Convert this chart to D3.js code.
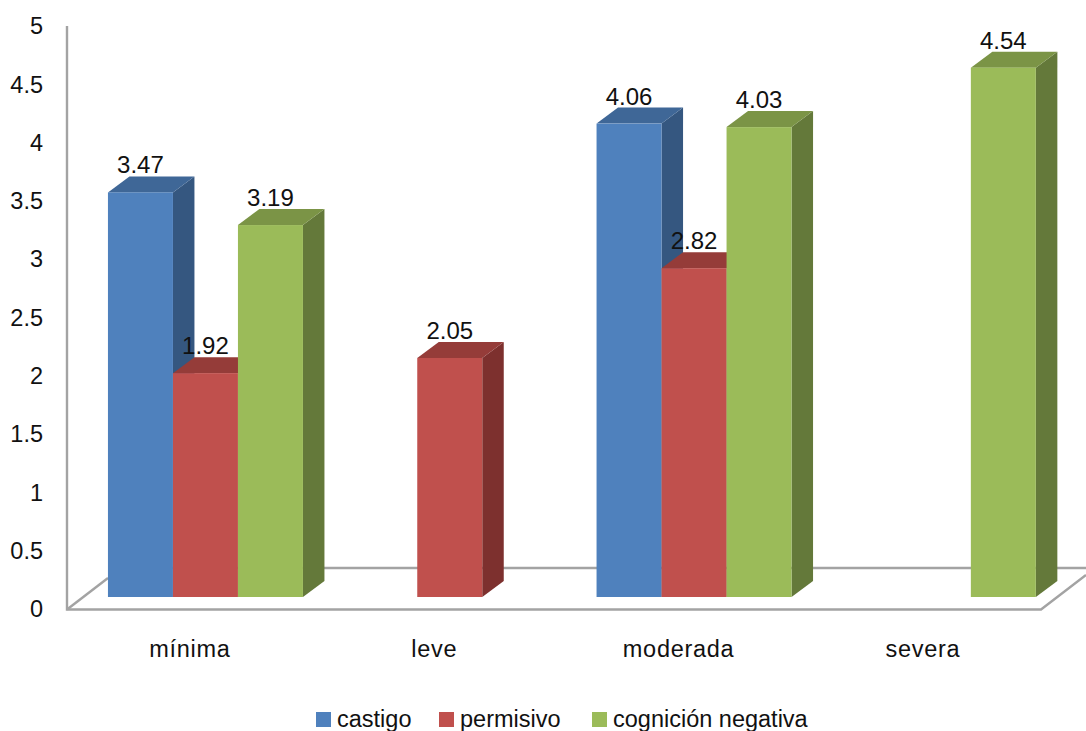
<!DOCTYPE html>
<html>
<head>
<meta charset="utf-8">
<style>
  html, body { margin: 0; padding: 0; background: #fff; }
  text { font-family: "Liberation Sans", Arial, sans-serif; fill: #111; }
</style>
<script src="https://cdn.jsdelivr.net/npm/d3@7/dist/d3.min.js"></script>
</head>
<body>
<svg id="chart" width="1086" height="731"></svg>
<script>
const categories = ["mínima", "leve", "moderada", "severa"];
const seriesNames = ["castigo", "permisivo", "cognición negativa"];
const castigo = [3.47, null, 4.06, null];
const permisivo = [1.92, 2.05, 2.82, null];
const cognicionNegativa = [3.19, null, 4.03, 4.54];
const yTicks = [0, 0.5, 1, 1.5, 2, 2.5, 3, 3.5, 4, 4.5, 5];

const seriesValues = [castigo, permisivo, cognicionNegativa];
const faceColors = ["#4f81bd", "#c0504d", "#9bbb59"];
const topColors = ["#3f6797", "#953c39", "#7b9446"];
const sideColors = ["#355780", "#7d302e", "#64793a"];

const svg = d3.select("#chart");

// Oblique projection of the box: each bar is pushed back by depthX / depthY.
const depthX = 21.5, depthY = 16;
const wallX = 67, floorFrontY = 609.5, floorBackY = 568;
const baseY = 597;

const yAxisScale = d3.scaleLinear().domain([0, 5]).range([609, 26]);
const yBar = d3.scaleLinear().domain([0, 5]).range([baseY, baseY - 583]);
const xGroup = d3.scaleBand().domain(categories).range([83.3, 1060.5]);
const barInset = (xGroup.bandwidth() - 195) / 2;
const xBar = d3.scaleBand().domain(d3.range(seriesNames.length)).range([barInset, barInset + 195]);

// Walls and floor of the chart box
const boxLine = d3.line();
const boxPaths = [
  [[wallX, 26], [wallX, floorFrontY], [1041, floorFrontY], [1086, 575]],
  [[wallX, floorFrontY], [108, 578]],
  [[108, floorBackY], [1086, floorBackY]]
];
svg.append("g").selectAll("path").data(boxPaths).join("path")
  .attr("d", boxLine)
  .attr("fill", "none")
  .attr("stroke", "#a3a3a3")
  .attr("stroke-width", 2.4);

// Bars, painted left to right so nearer faces overlap the previous side
const barLayer = svg.append("g");
const labels = [];
categories.forEach((cat, c) => {
  seriesValues.forEach((values, s) => {
    const v = values[c];
    if (v === null) return;
    const x0 = xGroup(cat) + xBar(s);
    const x1 = x0 + xBar.bandwidth();
    const top = yBar(v);
    const g = barLayer.append("g");
    g.append("path")
      .attr("d", boxLine([[x1, top], [x1 + depthX, top - depthY], [x1 + depthX, baseY - depthY], [x1, baseY]]))
      .attr("fill", sideColors[s]);
    g.append("path")
      .attr("d", boxLine([[x0, top], [x0 + depthX, top - depthY], [x1 + depthX, top - depthY], [x1, top]]))
      .attr("fill", topColors[s]);
    g.append("rect")
      .attr("x", x0).attr("y", top)
      .attr("width", x1 - x0).attr("height", baseY - top)
      .attr("fill", faceColors[s]);
    labels.push({ x: (x0 + x1) / 2, y: top - 19, v });
  });
});

// Value labels stay above every bar
svg.append("g").selectAll("text").data(labels).join("text")
  .attr("x", d => d.x)
  .attr("y", d => d.y)
  .attr("text-anchor", "middle")
  .attr("font-size", 24)
  .text(d => d.v.toFixed(2));

// Value axis
const yAxis = svg.append("g")
  .attr("transform", "translate(43,0)")
  .call(d3.axisLeft(yAxisScale).tickValues(yTicks).tickSize(0).tickPadding(0).tickFormat(d => String(d)));
yAxis.select(".domain").remove();
yAxis.selectAll("text")
  .attr("font-size", 23.5)
  .attr("dy", "0.33em")
  .style("fill", "#111");

// Category axis
const xAxis = svg.append("g")
  .attr("transform", "translate(-15.5,0)")
  .call(d3.axisBottom(xGroup).tickSize(0).tickPadding(0));
xAxis.select(".domain").remove();
xAxis.selectAll("text")
  .attr("y", 657)
  .attr("dy", 0)
  .attr("font-size", 23.5)
  .attr("letter-spacing", 0.7)
  .style("fill", "#111");

// Legend
const legendSwatchX = [316, 439, 592];
const legend = svg.append("g").selectAll("g").data(seriesNames).join("g")
  .attr("transform", (d, i) => `translate(${legendSwatchX[i]},712)`);
legend.append("rect")
  .attr("width", 15).attr("height", 15)
  .attr("fill", (d, i) => faceColors[i]);
legend.append("text")
  .attr("x", 21).attr("y", 15)
  .attr("font-size", 23.5)
  .text(d => d);
</script>
</body>
</html>
